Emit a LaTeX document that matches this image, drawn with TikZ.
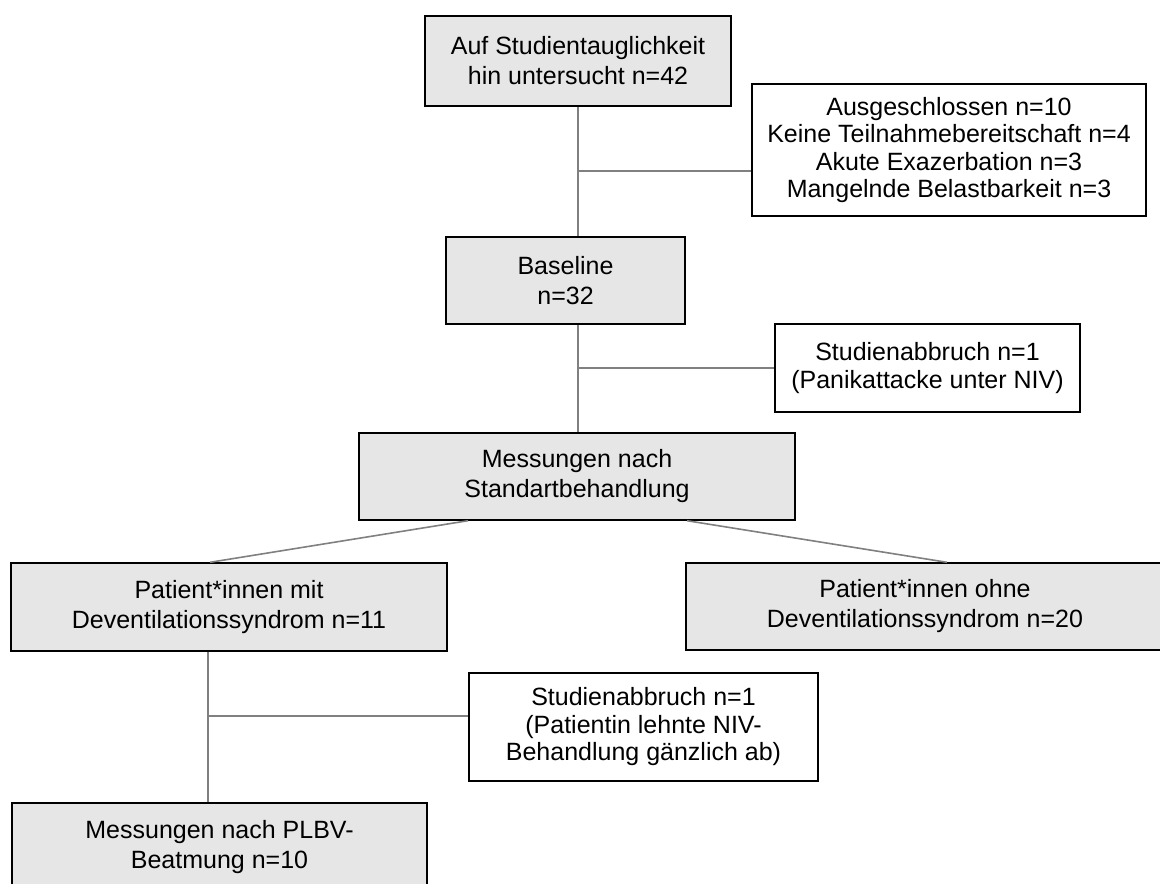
\documentclass[tikz,border=0pt]{standalone}
\usepackage{fontspec}
\setmainfont{Liberation Sans}
\usetikzlibrary{calc}
\definecolor{boxgray}{HTML}{E6E6E6}
\definecolor{linegray}{HTML}{808080}
\begin{document}
\begin{tikzpicture}[
            x=0.5pt, y=-0.5pt,
            ent/.style={draw, line width=0.7pt, fill=boxgray, rectangle, align=center, inner sep=0pt,
                        font=\fontsize{12.5pt}{15pt}\selectfont},
            note/.style={ent, fill=white, font=\fontsize{12.5pt}{13.75pt}\selectfont},
            lnk/.style={draw=linegray, line width=0.8pt}
        ]
           \useasboundingbox (0,0) rectangle (1160,883);
           \clip (0,0) rectangle (1160,883);

           \node[ent, minimum width=153pt, minimum height=45pt] (scr) at (578,61) {Auf Studientauglichkeit\\hin untersucht n=42};
           \node[note, minimum width=197pt, minimum height=66pt] (excl) at (949,150) {Ausgeschlossen n=10\\Keine Teilnahmebereitschaft n=4\\Akute Exazerbation n=3\\Mangelnde Belastbarkeit n=3};
           \node[ent, minimum width=119.5pt, minimum height=43.5pt] (base) at (565.5,280.5) {Baseline\\n=32};
           \node[note, minimum width=152.5pt, minimum height=44pt] (drop1) at (927.5,368) {Studienabbruch n=1\\(Panikattacke unter NIV)};
           \node[ent, minimum width=218pt, minimum height=43.5pt] (std) at (577,476.5) {Messungen nach\\Standartbehandlung};

           \node[ent, minimum width=218pt, minimum height=44pt] (dvs) at (229,607) {Patient*innen mit\\Deventilationssyndrom n=11};
           \node[ent, minimum width=239pt, minimum height=43.5pt] (nodvs) at (925,606.5) {Patient*innen ohne\\Deventilationssyndrom n=20};
           \node[note, minimum width=174.5pt, minimum height=54pt] (drop2) at (643.5,727) {Studienabbruch n=1\\(Patientin lehnte NIV-\\Behandlung gänzlich ab)};
           \node[ent, minimum width=207.5pt, minimum height=44pt] (plbv) at (219.5,847) {Messungen nach PLBV-\\Beatmung n=10};

           \coordinate (j1) at (578,171);
           \draw[lnk] (scr.south) -- (scr.south |- base.north);
           \draw[lnk] (j1) -- (j1 -| excl.west);
           \draw[lnk] (scr.south |- base.south) -- (scr.south |- std.north);
           \draw[lnk] (scr.south |- drop1.west) -- (drop1.west);

           \draw[lnk] ($(std.south)+(-109,0)$) -- ($(dvs.north)+(-19,0)$);
           \draw[lnk] ($(std.south)+(110,0)$) -- ($(nodvs.north)+(22,0)$);

           \coordinate (t3) at ($(dvs.south)+(-21,0)$);
           \coordinate (j3) at (208,716);
           \draw[lnk] (t3) -- (t3 |- plbv.north);
           \draw[lnk] (j3) -- (j3 -| drop2.west);
        \end{tikzpicture}
\end{document}
